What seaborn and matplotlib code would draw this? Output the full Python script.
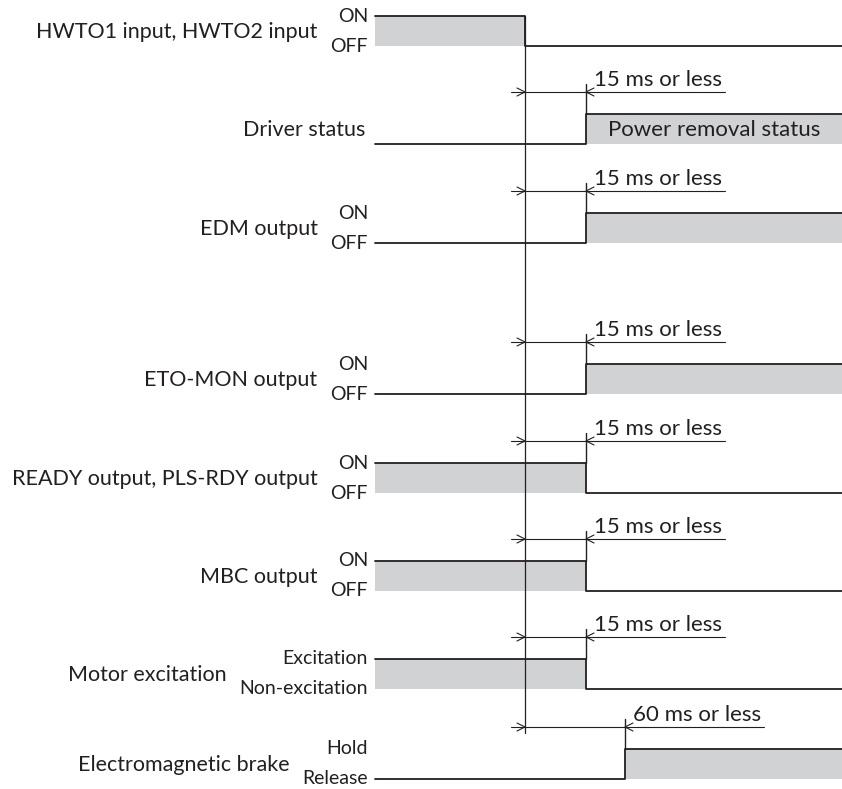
import numpy as np
import pandas as pd
import seaborn as sns
from matplotlib import pyplot as plt

# signal data (timing diagram, not to scale)
signals = ["HWTO1 input, HWTO2 input", "Driver status", "EDM output", "ETO-MON output",
           "READY output, PLS-RDY output", "MBC output", "Motor excitation", "Electromagnetic brake"]
high_labels = ["ON", "", "ON", "ON", "ON", "ON", "Excitation", "Hold"]
low_labels = ["OFF", "", "OFF", "OFF", "OFF", "OFF", "Non-excitation", "Release"]
start_level = [1, 0, 0, 0, 1, 1, 1, 0]
end_level = [0, 1, 1, 1, 0, 0, 0, 1]
delay_ms = [0, 15, 15, 15, 15, 15, 15, 60]
delay_text = ["", "15 ms or less", "15 ms or less", "15 ms or less", "15 ms or less",
              "15 ms or less", "15 ms or less", "60 ms or less"]
band_text = ["", "Power removal status", "", "", "", "", "", ""]

# schematic x position of each delay (drawing is not to scale)
delay_pos = {0: 0, 15: 61, 60: 100}

# layout
ROW_TOP = [16, 114, 213, 364, 463, 561, 659, 749]
ROW_H = 30
X_START, X_END = -150, 317
INK = "#231f20"
GRAY = "#d1d2d4"

sns.set_style("white")
plt.rcParams['font.family'] = ['Lato', 'DejaVu Sans']

fig = plt.figure(figsize=(8.42, 7.89), dpi=100)
ax = fig.add_axes([0, 0, 1, 1])
ax.set_xlim(-525, 317)
ax.set_ylim(789, 0)
ax.axis('off')


def level_y(i, lev):
    return ROW_TOP[i] + (1 - lev) * ROW_H


rows = []
for i, name in enumerate(signals):
    tx = delay_pos[delay_ms[i]]
    for x, lev in [(X_START, start_level[i]), (tx, end_level[i]), (X_END, end_level[i])]:
        rows.append({"signal": name, "x": x, "y": level_y(i, lev)})
waves = pd.DataFrame(rows)

# waveforms
for i, name in enumerate(signals):
    d = waves[waves.signal == name]
    sns.lineplot(data=d, x="x", y="y", drawstyle="steps-post", color=INK, lw=1.3,
                 estimator=None, sort=False, ax=ax, zorder=3)
    tx = delay_pos[delay_ms[i]]
    top, bot = level_y(i, 1), level_y(i, 0)
    if start_level[i]:
        ax.fill_between([X_START, tx], top, bot, color=GRAY, lw=0, zorder=1)
    if end_level[i]:
        ax.fill_between([tx, X_END], top, bot, color=GRAY, lw=0, zorder=1)
    if band_text[i]:
        ax.text((tx + X_END) / 2, (top + bot) / 2 + 1, band_text[i], ha="center", va="center",
                fontsize=16, color=INK, zorder=4)

    # delay dimension
    if delay_ms[i] > 0:
        ay = ROW_TOP[i] - 22
        ax.plot([-14, tx + 139], [ay, ay], color=INK, lw=0.8)
        ax.plot([-8, 0, -8], [ay - 4, ay, ay + 4], color=INK, lw=0.8)
        ax.plot([tx + 8, tx, tx + 8], [ay - 4, ay, ay + 4], color=INK, lw=0.8)
        ax.plot([tx, tx], [ay - 8, top], color=INK, lw=1.0)
        ax.text(tx + 8, ay - 6, delay_text[i], ha="left", va="baseline", fontsize=16, color=INK)

# reference line (HWTO off)
ax.plot([0, 0], [ROW_TOP[0], ROW_TOP[-1] - 16], color=INK, lw=0.9, zorder=4)

# labels
fig.canvas.draw()
renderer = fig.canvas.get_renderer()
inv = ax.transData.inverted()
for i, name in enumerate(signals):
    top, bot = level_y(i, 1), level_y(i, 0)
    left_px = None
    for lab, y in [(high_labels[i], top), (low_labels[i], bot)]:
        if lab:
            t = ax.text(X_START - 7, y, lab, ha="right", va="center", fontsize=14, color=INK)
            bb = t.get_window_extent(renderer)
            left_px = bb.x0 if left_px is None else min(left_px, bb.x0)
    if left_px is None:
        name_x = X_START - 10
    else:
        name_x = inv.transform((left_px - 13, 0))[0]
    ax.text(name_x, (top + bot) / 2 + 1, name, ha="right", va="center", fontsize=15.5, color=INK)

fig.savefig("out.png", dpi=100)
